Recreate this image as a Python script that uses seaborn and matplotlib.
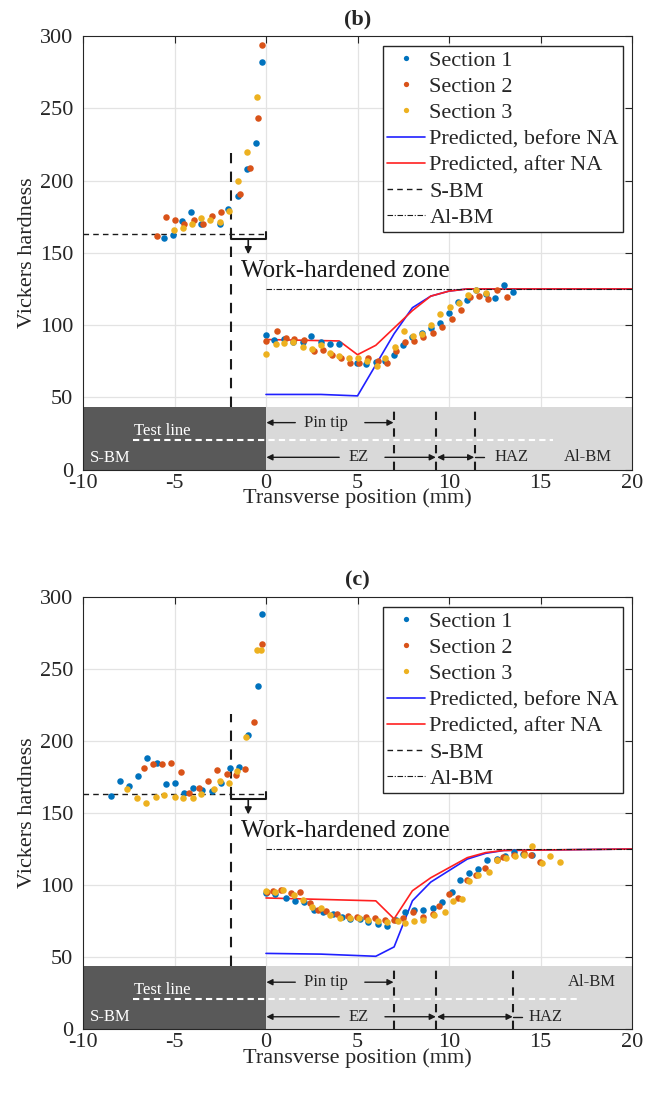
import numpy as np
import pandas as pd
import matplotlib
matplotlib.use("Agg")
import matplotlib.pyplot as plt
from matplotlib.lines import Line2D
from matplotlib.patches import Rectangle
import seaborn as sns

# ---------------- data ----------------
# Panel (b)
b_s1_x = [-5.6, -5.1, -4.6, -4.1, -3.55, -2.5, -2.05, -1.55, -1.05, -0.55, -0.2,
          0.0, 0.45, 1.0, 1.45, 2.0, 2.45, 3.0, 3.5, 4.0, 4.95, 5.45, 6.0, 6.5, 7.0, 7.5,
          8.0, 8.5, 9.0, 9.5, 10.0, 10.5, 11.0, 11.5, 12.0, 12.5, 13.0, 13.5]
b_s1_y = [160.5, 162, 172, 178, 170, 170, 180, 189, 208, 226, 282,
          93, 89.5, 90.5, 88, 88, 92.4, 88.4, 86.8, 86.7, 73.8, 73.1, 74.3, 75, 79.6, 86,
          91.5, 94.4, 97.7, 101.5, 108.5, 116, 117, 124, 121.7, 119, 127.8, 123]
b_s2_x = [-5.97, -5.46, -4.95, -4.46, -3.95, -3.44, -2.95, -2.44, -1.44, -0.9, -0.44, -0.22,
          0.0, 0.58, 1.07, 1.55, 2.09, 2.6, 3.1, 3.6, 4.1, 4.6, 5.1, 5.6, 6.1, 6.6, 7.1,
          7.6, 8.1, 8.6, 9.1, 9.6, 10.15, 10.65, 11.15, 11.65, 12.15, 12.65, 13.15]
b_s2_y = [161.5, 175, 173, 170, 173, 170, 175.5, 178, 191, 209, 243, 294,
          89, 95.8, 91, 90.6, 89.4, 82, 82.5, 79.5, 77, 73.8, 74, 77.4, 75, 73.8, 82,
          88.2, 89, 92, 94.7, 99, 104.4, 110.6, 119.5, 120, 118, 124, 119.5]
b_s3_x = [-5.03, -4.55, -4.04, -3.53, -3.04, -2.5, -2.0, -1.53, -1.02, -0.51,
          0.0, 0.52, 1.0, 1.5, 2.0, 2.5, 3.0, 3.5, 4.0, 4.52, 5.05, 5.5, 6.05, 6.5, 7.05,
          7.52, 8.03, 8.52, 9.02, 9.53, 10.04, 10.55, 11.05, 11.5, 12.0]
b_s3_y = [165.5, 167, 170, 174, 172.5, 171, 179, 200, 220, 258,
          80, 87, 87.5, 88, 85, 83.6, 86.3, 81, 78.5, 77.5, 77, 75.2, 71.5, 76.9, 84.9,
          96, 92.1, 94, 100.2, 108, 112.2, 115.5, 120.5, 124.5, 122]
b_before_x = [0, 3, 5, 7, 8, 9, 10, 11, 20]
b_before_y = [52, 52, 51, 94, 112, 120, 123.5, 125, 125]
b_after_x = [0, 4, 5, 6, 8, 9, 10, 11, 20]
b_after_y = [90, 89, 79.5, 86, 110, 120, 123.5, 125, 125]

# Panel (c)
c_s1_x = [-8.49, -8.0, -7.49, -6.99, -6.48, -5.97, -5.48, -4.97, -4.46, -3.97, -3.48,
          -2.97, -2.45, -1.97, -1.46, -0.97, -0.46, -0.22,
          0.0, 0.5, 1.07, 1.58, 2.08, 2.6, 3.13, 3.65, 4.15, 4.6, 5.15, 5.6, 6.1, 6.6,
          7.1, 7.6, 8.1, 8.6, 9.1, 9.6, 10.15, 10.6, 11.1, 11.6, 12.1, 12.6, 13.05,
          13.55, 14.05, 14.55]
c_s1_y = [162, 172, 169, 176, 188, 185, 170, 171, 164, 167.5, 166,
          165, 170.5, 181, 182, 204.5, 238, 288,
          94.2, 93.7, 90.7, 88.6, 87.9, 82.6, 81.4, 79.8, 78.0, 76.3, 76.3, 74.0, 72.8, 71.2,
          75.5, 81.0, 82.5, 82.6, 83.7, 87.9, 94.9, 103.7, 108.0, 111.0, 117.4, 118.0, 120.0,
          122.7, 121.7, 121.0]
c_s2_x = [-6.68, -6.17, -5.68, -5.17, -4.66, -4.2, -3.66, -3.15, -2.66, -2.15, -1.66,
          -1.15, -0.67, -0.2,
          0.05, 0.4, 0.8, 1.37, 1.86, 2.4, 2.86, 3.3, 3.86, 4.46, 4.97, 5.47, 5.93, 6.5,
          7.0, 7.5, 8.05, 8.6, 9.1, 9.47, 10.0, 10.5, 11.0, 11.5, 11.97, 12.6, 12.97,
          13.55, 14.1, 14.5, 14.97]
c_s2_y = [181, 183.7, 184.2, 184.6, 178.4, 164, 167.5, 172, 180.2, 177, 176.3,
          180.7, 213, 267.7,
          95, 95.5, 96.5, 94.2, 94.9, 87.2, 82.8, 82.1, 79.8, 78.6, 77.8, 77.8, 77.3, 75.6,
          76, 77, 81, 78, 80, 85.6, 93.7, 91, 103.5, 107, 111.8, 117.4, 119.2,
          121, 122, 120.8, 115.7]
c_s3_x = [-7.6, -7.05, -6.56, -6.0, -5.6, -5.0, -4.54, -4.0, -3.55, -2.85, -2.51, -2.02,
          -1.6, -1.1, -0.51, -0.29,
          0.0, 0.5, 0.95, 1.55, 2.0, 2.5, 3.0, 3.5, 4.04, 4.6, 5.1, 5.6, 6.1, 6.6, 7.2,
          7.6, 8.1, 8.6, 9.2, 9.8, 10.2, 10.7, 11.1, 11.6, 12.2, 12.6, 13.1, 13.6, 14.1,
          14.55, 15.06, 15.5, 16.07]
c_s3_y = [166.5, 160.5, 157, 161, 162.5, 161, 160.6, 160.6, 163.5, 167, 172, 170.7,
          179, 203, 263, 263,
          96, 95, 96.5, 92.8, 89.4, 84.8, 83.8, 79.1, 77, 77, 76.8, 75.6, 74.7, 74, 74.7,
          73.5, 74.7, 75.6, 78.9, 81.4, 88.9, 90.2, 102.5, 107, 109, 117.4, 118.5, 120, 121,
          126.9, 115.3, 120.4, 116.2]
c_before_x = [0, 3, 6, 7, 8, 9, 10, 11, 12, 13, 20]
c_before_y = [52.5, 52, 50.5, 57, 89, 102, 110, 118, 122, 124, 125]
c_after_x = [0, 6, 7, 8, 9, 10, 11, 12, 13, 20]
c_after_y = [91, 89, 76.5, 96, 105, 112, 119, 122.5, 124, 125]

# reference levels / zone boundaries
s_bm_level = 163
al_bm_level = 125
pin_tip_end = 7.0
ez_end = 9.3
b_haz_end = 11.4
c_haz_end = 13.5

legend_labels = ["Section 1", "Section 2", "Section 3", "Predicted, before NA",
                 "Predicted, after NA", "S-BM", "Al-BM"]

# ---------------- style ----------------
sns.set_theme(style="white")
plt.rcParams['font.family'] = ['Liberation Serif', 'DejaVu Serif']
plt.rcParams['axes.unicode_minus'] = False

C1, C2, C3 = '#0072BD', '#D95319', '#EDB120'
CB, CR = '#2020FF', '#FF2020'
AXC = '#262626'

fig = plt.figure(figsize=(6.46, 10.93), dpi=100)
W, H = 646, 1093


def make_axes(top, bottom, left=83, right=632):
    return fig.add_axes([left / W, 1 - bottom / H, (right - left) / W, (bottom - top) / H])


def arrow(ax, x0, x1, y, style='-|>'):
    ax.annotate('', xy=(x1, y), xytext=(x0, y),
                arrowprops=dict(arrowstyle=style, color='k', lw=1.0,
                                mutation_scale=9, shrinkA=0, shrinkB=0), zorder=5)


def panel(ax, s1x, s1y, s2x, s2y, s3x, s3y, bx, by, ax_, ay, haz_end, title, variant):
    ax.set_xlim(-10, 20)
    ax.set_ylim(0, 300)
    # grid
    for gx in [-5, 0, 5, 10, 15]:
        ax.axvline(gx, color='#E3E3E3', lw=0.9, zorder=0.2)
    for gy in [50, 100, 150, 200, 250]:
        ax.axhline(gy, color='#E3E3E3', lw=0.9, zorder=0.2)
    # band
    band_top = 43.5
    ax.add_patch(Rectangle((-10, 0), 10, band_top, facecolor='#595959', edgecolor='none', zorder=0.5))
    ax.add_patch(Rectangle((0, 0), 20, band_top, facecolor='#D9D9D9', edgecolor='none', zorder=0.5))

    # data
    sns.scatterplot(x=s1x, y=s1y, color=C1, s=22, linewidth=0, ax=ax, zorder=4, legend=False)
    sns.scatterplot(x=s2x, y=s2y, color=C2, s=22, linewidth=0, ax=ax, zorder=4, legend=False)
    sns.scatterplot(x=s3x, y=s3y, color=C3, s=22, linewidth=0, ax=ax, zorder=4, legend=False)
    sns.lineplot(x=bx, y=by, color=CB, lw=1.2, ax=ax, sort=False, estimator=None, zorder=3, legend=False)
    sns.lineplot(x=ax_, y=ay, color=CR, lw=1.2, ax=ax, sort=False, estimator=None, zorder=3, legend=False)

    # reference lines
    ax.plot([-10, 0], [s_bm_level, s_bm_level], color='k', lw=1.0, ls=(0, (4, 3)), zorder=3)
    ax.plot([0, 20], [al_bm_level, al_bm_level], color='k', lw=0.8, ls=(0, (5, 1.5, 1, 1.5)), zorder=3)

    # work hardened zone marker
    ax.plot([-1.9, -1.9], [band_top, 219], color='k', lw=1.5, ls=(0, (5, 4)), zorder=3)
    ax.plot([-1.9, -1.9, 0, 0], [164.5, 159.5, 159.5, 164.5], color='k', lw=1.5, zorder=3)
    ax.annotate('', xy=(-0.97, 149), xytext=(-0.97, 159.5),
                arrowprops=dict(arrowstyle='-|>', color='k', lw=1.2, mutation_scale=10,
                                shrinkA=0, shrinkB=0), zorder=5)
    ax.text(-1.35, 137.5, 'Work-hardened zone', fontsize=18, ha='left', va='center', color='k')

    # zone boundaries in band
    for xv in [pin_tip_end, ez_end, haz_end]:
        ax.plot([xv, xv], [0, band_top], color='k', lw=1.5, ls=(0, (4, 4)), zorder=3)

    # test line
    tl_end = 15.7 if variant == 'b' else 17.0
    ax.plot([-7.28, tl_end], [20.5, 20.5], color='white', lw=1.5, ls=(0, (3, 2)), zorder=3)
    ax.text(-7.2, 27, 'Test line', color='white', fontsize=12, ha='left', va='center')
    ax.text(-9.65, 8, 'S-BM', color='white', fontsize=12, ha='left', va='center')

    # pin tip
    ax.text(3.3, 32.5, 'Pin tip', fontsize=12, ha='center', va='center')
    arrow(ax, 1.6, 0.02, 32.5)
    arrow(ax, 5.4, 6.97, 32.5)
    # EZ
    ax.text(5.05, 8.5, 'EZ', fontsize=12, ha='center', va='center')
    arrow(ax, 4.0, 0.02, 8.5)
    arrow(ax, 6.5, ez_end - 0.02, 8.5)
    # HAZ
    arrow(ax, ez_end + 0.05, haz_end - 0.02, 8.5, style='<|-|>')
    ax.plot([haz_end, haz_end + 0.5], [8.5, 8.5], color='k', lw=1.0, zorder=4)
    if variant == 'b':
        ax.text(13.4, 8.5, 'HAZ', fontsize=12, ha='center', va='center')
        ax.text(17.6, 8.5, 'Al-BM', fontsize=12, ha='center', va='center')
    else:
        ax.text(15.3, 8.5, 'HAZ', fontsize=12, ha='center', va='center')
        ax.text(17.8, 32.5, 'Al-BM', fontsize=12, ha='center', va='center')

    # axes style
    ax.set_xticks([-10, -5, 0, 5, 10, 15, 20])
    ax.set_yticks([0, 50, 100, 150, 200, 250, 300])
    ax.tick_params(direction='in', top=True, right=True, length=5, width=0.8,
                   color=AXC, labelcolor=AXC, labelsize=16)
    ax.tick_params(axis='x', pad=3)
    ax.tick_params(axis='y', pad=7)
    for sp in ax.spines.values():
        sp.set_color(AXC)
        sp.set_linewidth(0.8)
        sp.set_zorder(6)
    ax.set_xlabel('Transverse position (mm)', fontsize=16, color=AXC, labelpad=-3)
    ax.set_ylabel('Vickers hardness', fontsize=16, color=AXC, labelpad=2)
    ax.set_title(title, fontsize=16, fontweight='bold', pad=8, color=AXC)

    handles = [
        Line2D([], [], ls='none', marker='o', ms=3.8, mec='none', color=C1),
        Line2D([], [], ls='none', marker='o', ms=3.8, mec='none', color=C2),
        Line2D([], [], ls='none', marker='o', ms=3.8, mec='none', color=C3),
        Line2D([], [], color=CB, lw=1.2),
        Line2D([], [], color=CR, lw=1.2),
        Line2D([], [], color='k', lw=1.0, ls=(0, (4, 3))),
        Line2D([], [], color='k', lw=0.8, ls=(0, (5, 1.5, 1, 1.5))),
    ]
    leg = ax.legend(handles, legend_labels, loc='upper right',
                    bbox_to_anchor=(1 - 8.7 / 549, 1 - 10 / 432), borderaxespad=0,
                    fontsize=16, frameon=True, fancybox=False, framealpha=1,
                    edgecolor=AXC, handlelength=1.7, handletextpad=0.2,
                    labelspacing=0.25, borderpad=0.2)
    leg.get_frame().set_linewidth(1.0)
    leg.set_zorder(10)


ax_b = make_axes(36, 469.6)
panel(ax_b, b_s1_x, b_s1_y, b_s2_x, b_s2_y, b_s3_x, b_s3_y,
      b_before_x, b_before_y, b_after_x, b_after_y, b_haz_end, '(b)', 'b')

ax_c = make_axes(597, 1029)
panel(ax_c, c_s1_x, c_s1_y, c_s2_x, c_s2_y, c_s3_x, c_s3_y,
      c_before_x, c_before_y, c_after_x, c_after_y, c_haz_end, '(c)', 'c')

fig.patch.set_facecolor('white')
fig.savefig('out.png', dpi=100, facecolor='white')
